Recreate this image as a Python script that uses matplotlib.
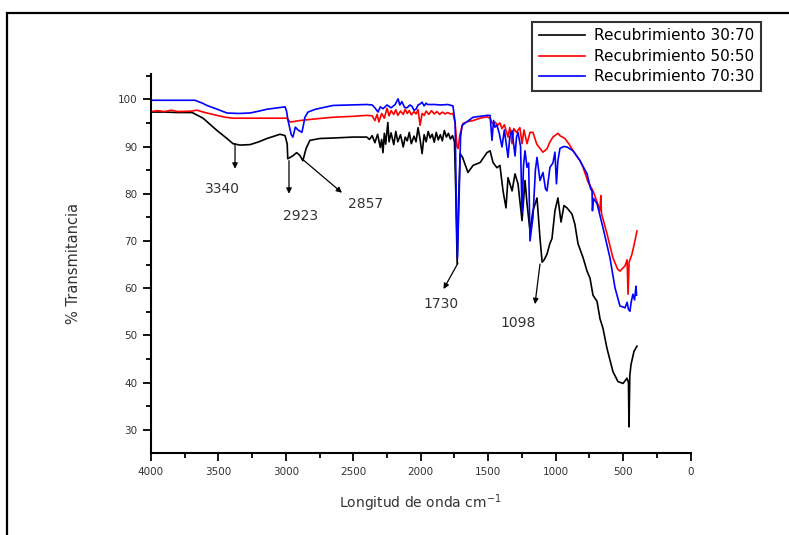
import matplotlib
matplotlib.use("Agg")
import matplotlib.pyplot as plt
from matplotlib.patches import Rectangle

plt.rcParams['font.family'] = ['DejaVu Sans']

# ---- data (wavenumber cm-1, % transmittance) ----
wn_30_70 = [4000, 3900, 3800, 3700, 3688, 3614, 3511, 3437, 3392, 3340, 3266, 3200, 3140, 3043,
            3006, 2990, 2986, 2950, 2920, 2896, 2874, 2850, 2822, 2747, 2650, 2500, 2400,
            2380, 2360, 2340, 2320, 2300, 2290, 2280, 2270, 2260, 2244, 2235, 2220, 2200, 2185,
            2170, 2150, 2130, 2115, 2100, 2085, 2070, 2050, 2035, 2020, 2005, 1990, 1975, 1960,
            1945, 1930, 1915, 1900, 1885, 1870, 1855, 1840, 1825, 1810, 1795, 1780, 1765, 1750,
            1740, 1730, 1720, 1708, 1690, 1650, 1612, 1560, 1509, 1486, 1464, 1435, 1413, 1390,
            1368, 1353, 1323, 1301, 1279, 1249, 1227, 1212, 1190, 1168, 1138, 1116, 1100, 1085,
            1064, 1042, 1027, 1005, 983, 960, 938, 916, 879, 857, 834, 797, 767, 745, 723, 693,
            671, 649, 619, 575, 538, 500, 471, 460, 456, 450, 441, 419, 397]
t_30_70 = [97.3, 97.3, 97.2, 97.2, 97.1, 96.0, 93.4, 91.7, 90.6, 90.3, 90.4, 91.0, 91.7, 92.6,
           92.3, 90.5, 87.4, 88.0, 88.7, 88.1, 87.0, 89.6, 91.3, 91.7, 91.8, 92.0, 92.0,
           91.5, 92.3, 90.8, 92.6, 89.8, 91.5, 88.7, 92.8, 90.5, 95.1, 91.0, 92.9, 90.4, 93.2,
           91.0, 92.5, 89.9, 92.0, 91.2, 93.0, 90.6, 92.2, 91.0, 94.0, 91.5, 88.5, 92.5, 91.0,
           93.2, 91.8, 92.6, 90.9, 93.0, 91.4, 92.5, 91.2, 93.4, 92.0, 92.8, 91.6, 92.3, 91.0,
           80.0, 65.1, 78.0, 88.5, 87.7, 84.5, 86.0, 86.6, 88.7, 89.1, 86.6, 85.5, 86.0, 80.6,
           77.0, 83.4, 80.6, 84.2, 82.1, 74.3, 82.8, 77.9, 72.1, 76.4, 79.1, 70.6, 65.5, 66.0,
           67.2, 69.5, 70.5, 76.4, 79.1, 74.0, 77.5, 77.0, 75.7, 73.5, 69.4, 66.5, 63.6, 62.1, 58.5, 57.2,
           53.5, 51.5, 47.2, 42.3, 40.2, 39.8, 40.9, 40.0, 30.6, 41.5, 43.8, 46.6, 47.7]

wn_50_50 = [4000, 3950, 3900, 3850, 3800, 3700, 3660, 3600, 3511, 3450, 3392, 3300, 3140, 3000,
            2992, 2970, 2940, 2896, 2800, 2650, 2500, 2400, 2360, 2340, 2324, 2310, 2290, 2270,
            2250, 2235, 2220, 2200, 2185, 2170, 2150, 2130, 2115, 2100, 2085, 2070, 2050, 2035,
            2020, 2005, 1990, 1975, 1960, 1940, 1920, 1900, 1880, 1860, 1840, 1820, 1800, 1780,
            1761, 1745, 1731, 1723, 1710, 1686, 1650, 1612, 1560, 1509, 1486, 1470, 1450, 1430,
            1413, 1398, 1380, 1353, 1340, 1323, 1310, 1290, 1265, 1249, 1235, 1212, 1190, 1168,
            1140, 1116, 1094, 1064, 1042, 1020, 983, 968, 931, 900, 871, 819, 797, 760, 723, 690,
            671, 665, 660, 619, 575, 540, 523, 500, 486, 470, 463, 455, 434, 412, 397]
t_50_50 = [97.4, 97.6, 97.4, 97.7, 97.4, 97.5, 97.7, 97.2, 96.6, 96.2, 96.0, 96.0, 96.0, 96.0,
           96.0, 95.2, 95.3, 95.5, 95.8, 96.2, 96.4, 96.6, 96.5, 95.5, 96.8, 95.2, 97.0, 96.0,
           98.1, 96.5, 97.6, 96.8, 97.8, 96.6, 97.5, 96.8, 97.9, 97.0, 97.6, 96.7, 97.4, 96.9,
           97.8, 94.5, 97.0, 96.6, 97.5, 96.8, 97.6, 96.9, 97.4, 96.8, 97.3, 96.9, 97.2, 96.9,
           97.0, 95.0, 90.0, 89.6, 92.5, 94.9, 95.3, 95.5, 96.0, 96.3, 96.0, 94.9, 95.2, 94.5,
           95.0, 93.8, 94.6, 92.0, 94.0, 90.6, 93.8, 93.0, 94.0, 90.6, 93.5, 90.6, 93.0, 93.0,
           90.5, 89.6, 88.8, 89.5, 91.0, 92.0, 92.8, 92.3, 91.7, 90.5, 89.1, 87.0, 85.6, 82.5, 80.6, 78.0,
           76.4, 79.6, 75.8, 71.5, 66.4, 64.0, 63.6, 64.3, 64.7, 66.0, 58.7, 65.5, 67.2, 70.0, 72.1]

wn_70_30 = [4000, 3800, 3674, 3620, 3585, 3500, 3437, 3350, 3266, 3200, 3140, 3060, 3006, 2995,
            2984, 2960, 2948, 2930, 2910, 2881, 2870, 2859, 2836, 2780, 2650, 2400, 2360, 2340,
            2317, 2300, 2280, 2250, 2220, 2190, 2168, 2155, 2140, 2120, 2102, 2080, 2065, 2050,
            2035, 2020, 2005, 1991, 1975, 1960, 1950, 1900, 1850, 1800, 1761, 1745, 1735, 1728,
            1715, 1705, 1694, 1660, 1612, 1560, 1509, 1486, 1472, 1460, 1450, 1435, 1418, 1398,
            1380, 1353, 1340, 1323, 1301, 1290, 1279, 1260, 1249, 1238, 1227, 1212, 1200, 1190,
            1175, 1168, 1150, 1138, 1116, 1094, 1075, 1064, 1042, 1020, 1005, 994, 983, 968, 940,
            916, 871, 819, 767, 740, 730, 727, 720, 693, 649, 597, 560, 523, 500, 486, 470, 460,
            449, 440, 427, 415, 404, 400]
t_70_30 = [99.8, 99.8, 99.8, 99.2, 98.7, 97.8, 97.1, 97.0, 97.1, 97.5, 97.9, 98.2, 98.4, 97.5,
           95.5, 92.5, 92.0, 94.1, 93.5, 93.0, 94.5, 96.2, 97.3, 97.9, 98.7, 98.9, 98.8, 98.2,
           97.3, 98.4, 98.0, 98.8, 98.2, 98.9, 100.1, 98.8, 99.5, 98.3, 98.2, 98.8, 98.5, 97.7,
           97.9, 98.8, 99.0, 99.4, 98.6, 99.2, 98.9, 98.9, 98.8, 98.9, 98.6, 95.0, 75.0, 66.4,
           80.0, 92.0, 94.5, 95.2, 96.2, 96.4, 96.6, 96.6, 91.3, 95.5, 94.1, 94.5, 92.8, 89.9,
           93.5, 87.7, 92.0, 93.4, 88.0, 92.0, 93.0, 90.0, 76.0, 86.0, 89.1, 85.6, 86.5, 70.0,
           73.5, 75.0, 85.0, 87.7, 82.8, 84.5, 81.0, 80.6, 85.6, 86.5, 88.8, 82.1, 87.0, 89.6, 90.0,
           89.9, 89.1, 87.0, 84.2, 81.0, 80.6, 76.4, 79.0, 77.9, 72.8, 66.4, 60.1, 56.2, 56.0, 55.8, 57.0, 55.5,
           55.1, 57.0, 58.7, 57.5, 60.4, 58.5]

series_labels = ["Recubrimiento 30:70", "Recubrimiento 50:50", "Recubrimiento 70:30"]
series_colors = ["black", "red", "blue"]

# annotation: label, peak point (wn, T), arrow head (wn, T), text position (wn, T)
peak_labels = ["3340", "2923", "2857", "1730", "1098"]
peak_from = [(3377, 90.6), (2977, 87.0), (2881, 87.4), (1724, 65.3), (1116, 65.1)]
peak_to = [(3377, 85.3), (2977, 80.0), (2584, 80.2), (1831, 59.8), (1153, 56.6)]
peak_text = [(3474, 81.1), (2888, 75.3), (2406, 77.9), (1850, 56.6), (1279, 52.6)]

x_ticks = [4000, 3500, 3000, 2500, 2000, 1500, 1000, 500, 0]
y_ticks = [30, 40, 50, 60, 70, 80, 90, 100]

# ---- figure ----
fig = plt.figure(figsize=(7.89, 5.35), dpi=100)
ax = fig.add_axes([151/789, 1-453.3/535, (690.5-151)/789, (453.3-74.3)/535])

for wn, t, lab, c in zip([wn_30_70, wn_50_50, wn_70_30], [t_30_70, t_50_50, t_70_30],
                         series_labels, series_colors):
    ax.plot(wn, t, color=c, lw=1.2, label=lab)

for lab, p0, p1, pt in zip(peak_labels, peak_from, peak_to, peak_text):
    ax.annotate("", xy=p1, xytext=p0,
                arrowprops=dict(arrowstyle='-|>', color='black', lw=0.9,
                                mutation_scale=8, shrinkA=0, shrinkB=0))
    ax.text(pt[0], pt[1], lab, ha='center', va='center', fontsize=10, color='#333333')

ax.set_xlim(4000, 0)
ax.set_ylim(25, 105.3)
ax.set_xticks(x_ticks)
ax.set_yticks(y_ticks)
ax.set_xticks([3750, 3250, 2750, 2250, 1750, 1250, 750, 250], minor=True)
ax.set_yticks([35, 45, 55, 65, 75, 85, 95, 105], minor=True)
ax.tick_params(which='major', direction='out', length=6, width=1.3, labelsize=7.5,
               labelcolor='#333333', pad=4)
ax.tick_params(which='minor', direction='out', length=3.5, width=1.3)
for s in ['top', 'right']:
    ax.spines[s].set_visible(False)
for s in ['left', 'bottom']:
    ax.spines[s].set_linewidth(1.5)

ax.set_xlabel("Longitud de onda cm$^{-1}$", fontsize=10, color='#333333', labelpad=11)
ax.set_ylabel("% Transmitancia", fontsize=10.5, color='#333333', labelpad=26)

leg = fig.legend(loc='upper right', bbox_to_anchor=(761/789, 1-21.5/535),
                 fontsize=11, frameon=True, fancybox=False, edgecolor='black',
                 handlelength=3.0, handletextpad=0.6, labelspacing=0.36,
                 borderpad=0.45, borderaxespad=0)
leg.get_frame().set_linewidth(1.5)

fig.add_artist(Rectangle((7/789, -0.1), 1.2, 1.1 - 12.5/535, transform=fig.transFigure,
                         fill=False, lw=1.6, ec='black'))

fig.savefig("out.png", dpi=100, facecolor='white')
